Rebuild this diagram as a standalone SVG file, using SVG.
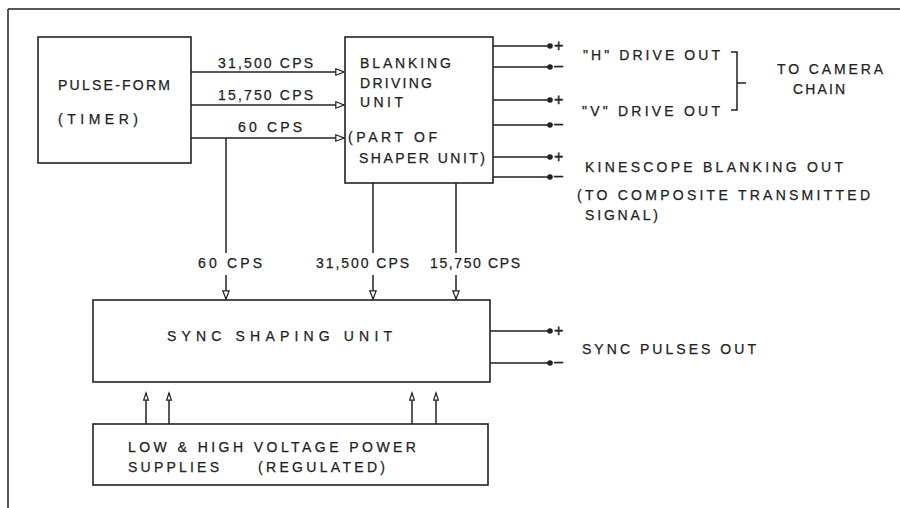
<svg xmlns="http://www.w3.org/2000/svg" width="900" height="508" viewBox="0 0 900 508">
<style>
.box{fill:none;stroke:#222;stroke-width:1.6}
.ln{fill:none;stroke:#222;stroke-width:1.5}
.arr{marker-end:url(#ah)}
.arrs{marker-end:url(#ahs)}
text{font-family:"Liberation Sans",Arial,sans-serif;font-size:14px;fill:#222;stroke:#222;stroke-width:0.25}
.sg{font-size:16px;stroke-width:0.4}
.dot{fill:#222}
</style>
<defs>
<marker id="ah" markerUnits="userSpaceOnUse" markerWidth="12" markerHeight="10" refX="9" refY="4" orient="auto">
<path d="M0.8,0.8 L9,4 L0.8,7.2 z" fill="#fff" stroke="#222" stroke-width="1.2"/>
</marker>
<marker id="ahs" markerUnits="userSpaceOnUse" markerWidth="10" markerHeight="8" refX="8" refY="3" orient="auto">
<path d="M0.8,0.6 L8,3 L0.8,5.4 z" fill="#fff" stroke="#222" stroke-width="1.2"/>
</marker>
</defs>
<rect width="900" height="508" fill="#fff"/>
<g id="frame"><path class="ln" d="M8,9 H900 M8,9 V508"/></g>

<g id="pulse-form">
<rect class="box" x="38" y="37" width="153" height="126"/>
<text x="58" y="90" textLength="112" lengthAdjust="spacing">PULSE-FORM</text>
<text x="58" y="124" textLength="80" lengthAdjust="spacing">(TIMER)</text>
</g>

<g id="blanking">
<rect class="box" x="345" y="37" width="148" height="146"/>
<text x="360" y="68" textLength="91" lengthAdjust="spacing">BLANKING</text>
<text x="360" y="88" textLength="72" lengthAdjust="spacing">DRIVING</text>
<text x="360" y="107" textLength="43" lengthAdjust="spacing">UNIT</text>
<text x="348" y="142" textLength="89" lengthAdjust="spacing">(PART OF</text>
<text x="359" y="163" textLength="126" lengthAdjust="spacing">SHAPER UNIT)</text>
</g>

<g id="sync">
<rect class="box" x="93" y="300" width="397" height="82"/>
<text x="167" y="341" textLength="225" lengthAdjust="spacing">SYNC SHAPING UNIT</text>
</g>

<g id="power">
<rect class="box" x="93" y="424" width="395" height="61"/>
<text x="128" y="452" textLength="288" lengthAdjust="spacing">LOW &amp; HIGH VOLTAGE POWER</text>
<text x="128" y="472" textLength="91" lengthAdjust="spacing">SUPPLIES</text>
<text x="258" y="472" textLength="127" lengthAdjust="spacing">(REGULATED)</text>
</g>

<g id="connectors">
<path class="ln arr" d="M191,72 H344"/>
<path class="ln arr" d="M191,105 H344"/>
<path class="ln arr" d="M191,138 H344"/>
<path class="ln" d="M226,138 V253"/>
<path class="ln arr" d="M226,275 V299"/>
<path class="ln" d="M373,183 V253"/>
<path class="ln arr" d="M373,275 V299"/>
<path class="ln" d="M456,183 V253"/>
<path class="ln arr" d="M456,275 V299"/>
<path class="ln arrs" d="M146,424 V393"/>
<path class="ln arrs" d="M169,424 V393"/>
<path class="ln arrs" d="M412,424 V393"/>
<path class="ln arrs" d="M436,424 V393"/>
<path class="ln" d="M493,46 H550 M493,67 H550 M493,100 H550 M493,125 H550 M493,157 H550 M493,177 H550 M490,331 H550 M490,363 H550"/>
<circle class="dot" cx="550" cy="46" r="2.8"/>
<circle class="dot" cx="550" cy="67" r="2.8"/>
<circle class="dot" cx="550" cy="100" r="2.8"/>
<circle class="dot" cx="550" cy="125" r="2.8"/>
<circle class="dot" cx="550" cy="157" r="2.8"/>
<circle class="dot" cx="550" cy="177" r="2.8"/>
<circle class="dot" cx="550" cy="331" r="2.8"/>
<circle class="dot" cx="550" cy="363" r="2.8"/>
<path class="ln" d="M731,52 H737 V110 H731 M737,83 H746"/>
</g>

<g id="labels">
<text x="218" y="68" textLength="95" lengthAdjust="spacing">31,500 CPS</text>
<text x="218" y="100" textLength="95" lengthAdjust="spacing">15,750 CPS</text>
<text x="238" y="132" textLength="64" lengthAdjust="spacing">60 CPS</text>
<text x="198" y="268" textLength="64" lengthAdjust="spacing">60 CPS</text>
<text x="316" y="268" textLength="93" lengthAdjust="spacing">31,500 CPS</text>
<text x="430" y="268" textLength="90" lengthAdjust="spacing">15,750 CPS</text>
<text class="sg" x="554" y="51">+</text>
<text class="sg" x="554" y="71">–</text>
<text class="sg" x="554" y="105">+</text>
<text class="sg" x="554" y="129">–</text>
<text class="sg" x="554" y="162">+</text>
<text class="sg" x="554" y="181">–</text>
<text class="sg" x="554" y="336">+</text>
<text class="sg" x="554" y="367">–</text>
<text x="583" y="60" textLength="137" lengthAdjust="spacing">"H" DRIVE OUT</text>
<text x="582" y="116" textLength="138" lengthAdjust="spacing">"V" DRIVE OUT</text>
<text x="777" y="74" textLength="106" lengthAdjust="spacing">TO CAMERA</text>
<text x="793" y="94" textLength="52" lengthAdjust="spacing">CHAIN</text>
<text x="585" y="172" textLength="258" lengthAdjust="spacing">KINESCOPE BLANKING OUT</text>
<text x="577" y="200" textLength="293" lengthAdjust="spacing">(TO COMPOSITE TRANSMITTED</text>
<text x="585" y="220" textLength="73" lengthAdjust="spacing">SIGNAL)</text>
<text x="582" y="354" textLength="174" lengthAdjust="spacing">SYNC PULSES OUT</text>
</g>
</svg>
